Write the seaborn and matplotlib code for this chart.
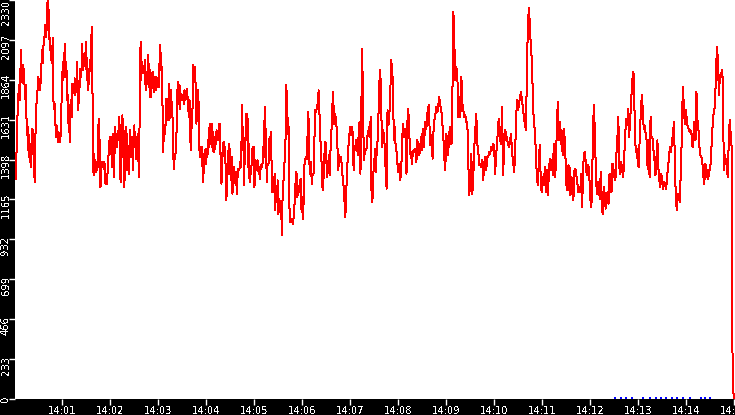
import numpy as np
import pandas as pd
import matplotlib
matplotlib.use("Agg")
import matplotlib.pyplot as plt
import matplotlib.dates as mdates
from matplotlib.transforms import ScaledTranslation
import seaborn as sns

day = "2024-01-01 "

# chunk boundaries (time of first sample of each chunk, plus final end)
chunk_bounds = ["14:00:02", "14:03:47", "14:05:40", "14:07:32", "14:09:09",
                "14:11:17", "14:14:58", "14:15:01"]

seg1 = [1286, 1423, 1553, 1696, 1764, 1833, 1745, 1823, 2037, 1852,
        1891, 1950, 1842, 1930, 1823, 1754, 1833, 1647, 1540, 1589,
        1452, 1540, 1384, 1452, 1354, 1491, 1579, 1433, 1569, 1403,
        1267, 1472, 1667, 1725, 1764, 1823, 1881, 1823, 1852, 1803,
        1911, 1959, 2037, 1959, 2057, 2096, 2125, 2184, 2115, 2154,
        2301, 2330, 2184, 2271, 2037, 2106, 1979, 2047, 1959, 2106,
        1745, 1696, 1725, 1628, 1530, 1598, 1589, 1501, 1559, 1511,
        1540, 1501, 1618, 1745, 1911, 1862, 1969, 1920, 2076, 1881,
        1969, 1911, 1745, 1774, 1608, 1647, 1501, 1715, 1745, 1647,
        1842, 1784, 1842, 1784, 1872, 1774, 1862, 1842, 1969, 1686,
        1725, 1842, 1823, 1930, 1881, 1930, 2076, 1920, 2008, 1959,
        2018, 1940, 2086, 1862, 1989, 1803, 1862, 1842, 1979, 1920,
        2028, 2174, 1911, 1481, 1306, 1433, 1345, 1394, 1325, 1345,
        1335, 1394, 1637, 1374, 1511, 1237, 1354, 1384, 1374, 1354,
        1384, 1345, 1374, 1257, 1315, 1257, 1315, 1335, 1442, 1491,
        1530, 1491, 1530, 1354, 1413, 1550, 1296, 1335, 1589, 1511,
        1550, 1472, 1511, 1511, 1589, 1647, 1520, 1267, 1354, 1452,
        1657, 1511, 1569, 1237, 1354, 1413, 1589, 1511, 1335, 1394,
        1315, 1433, 1569, 1413, 1472, 1530, 1413, 1335, 1550, 1598,
        1472, 1530, 1403, 1462, 1491, 1550, 1296, 1491, 1881, 2086,
        1862, 1969, 1901, 1930, 1911, 1940, 1979, 1803, 1911, 1842,
        1852, 2008, 1823, 1959, 1764, 1764, 1803, 1862, 1911, 1813,
        1881, 1793, 1833, 1803, 1881, 1872, 1823, 1872, 1823, 1950,
        2067, 1920, 2018, 1774, 1706, 1442, 1559, 1540, 1598, 1598,
        1754, 1628, 1745, 1676, 1842, 1628, 1784, 1803, 1676, 1735,
        1628, 1442, 1345, 1403, 1403, 1452, 1520, 1686, 1833, 1852,
        1725, 1833, 1696, 1784, 1745, 1774, 1745, 1774, 1725, 1803,
        1745, 1774, 1754, 1813, 1754, 1696, 1647, 1745, 1559, 1452,
        1569, 1676, 1706, 1950, 1911, 1940, 1852]

seg2a = [1842, 1608, 1676, 1706, 1803, 1647, 1452, 1413, 1472, 1462,
         1472, 1354, 1267, 1345, 1433, 1413, 1462, 1374, 1452, 1413,
         1511, 1472, 1569, 1608, 1491, 1550, 1608, 1472, 1559, 1442,
         1491, 1462, 1530, 1491, 1569, 1530, 1559, 1511, 1608, 1608,
         1530, 1296, 1257, 1374, 1472, 1491, 1501, 1413, 1472, 1315,
         1159, 1237, 1315, 1403, 1491, 1354, 1462, 1277, 1354, 1413,
         1198, 1296, 1354, 1267, 1325, 1257, 1325, 1198, 1277, 1335,
         1345, 1335, 1354, 1384, 1354, 1530, 1715, 1452, 1559, 1247,
         1413, 1481, 1608, 1667, 1511, 1637, 1354, 1491, 1267, 1354,
         1315, 1354, 1413, 1472, 1394, 1472, 1237, 1315, 1394, 1374,
         1335, 1394, 1354, 1315, 1345, 1286, 1364, 1345, 1374, 1354,
         1472, 1413, 1550, 1706, 1550, 1579, 1267, 1364, 1364, 1374,
         1501, 1530, 1511, 1559, 1394, 1208, 1267, 1237, 1208, 1315,
         1101, 1218, 1228, 1150, 1277, 1081, 1169, 1120, 1159, 1052,
         1159, 955, 1169, 1237, 1306, 1374, 1413, 1530]

seg2b = [1833, 1745, 1550, 1589, 1042, 1033, 1052, 1042, 1023, 1081, 1159,
         1267, 1325, 1179, 1218, 1208, 1277, 1286, 1091, 1179, 1052,
         1354, 1394, 1413, 1403, 1540, 1676, 1394, 1315, 1384, 1257,
         1315, 1315, 1491, 1686, 1676, 1706, 1725, 1803, 1667, 1511,
         1462, 1257, 1218, 1315, 1452, 1501, 1403, 1296, 1354, 1423,
         1306, 1462, 1559, 1706, 1793, 1608, 1667, 1647, 1589, 1481,
         1335, 1423, 1394, 1413, 1374, 1306, 1257, 1198, 1062, 1120,
         1306, 1394, 1481, 1540, 1589, 1540, 1589, 1550, 1335, 1452,
         1472, 1511, 1472, 1423, 1569, 1618, 1315, 1676, 2047,
         1706, 1394, 1442, 1462, 1452, 1530, 1550, 1589, 1530, 1647,
         1198, 1150, 1315, 1354, 1462]

seg3a = [1325, 1452, 1511, 1667, 1852, 1920, 1706, 1472, 1569, 1550,
         1462, 1325, 1228, 1686, 1598, 1657, 1774, 1979, 1930, 1833,
         1511, 1589, 1472, 1442, 1374, 1325, 1374, 1277, 1315, 1462,
         1608, 1530, 1579, 1530, 1315, 1618, 1696, 1569, 1433, 1442,
         1374, 1433, 1452, 1442, 1462, 1384, 1511, 1472, 1423, 1452,
         1530, 1452, 1579, 1472, 1540, 1618, 1579, 1657, 1706, 1715,
         1481, 1540, 1491, 1403, 1569, 1628, 1657, 1706, 1676, 1686,
         1764, 1735, 1696, 1667, 1589, 1511, 1403, 1335, 1550, 1511,
         1423, 1511, 1589, 1491, 1491, 1823]

seg3b = [2262, 2057, 1862, 1940, 1881, 1647, 1764, 1647, 1881, 1725, 1686,
         1647, 1657, 1618, 1618, 1374, 1189, 1296, 1433, 1198, 1296,
         1472, 1569, 1667, 1491, 1452, 1364, 1374, 1354, 1394, 1277,
         1374, 1413, 1335, 1413, 1413, 1442, 1433, 1472, 1452, 1491,
         1472, 1315, 1433, 1491, 1608, 1637, 1511, 1491, 1706, 1306,
         1472, 1569, 1550, 1511, 1491, 1472, 1511, 1550, 1433, 1394,
         1325, 1413, 1628, 1745, 1686, 1725, 1764, 1793, 1745, 1696,
         1637, 1608, 1569, 1940, 2203, 2281, 2174, 2037, 1979, 1735,
         1608, 1569, 1423, 1296, 1247, 1413, 1481, 1228, 1208, 1296,
         1247, 1354, 1208, 1335, 1189, 1315, 1403, 1335, 1394, 1306,
         1491, 1296]

seg4 = [1354, 1569, 1735, 1511, 1618, 1491, 1569, 1423, 1579, 1530,
        1394, 1237, 1218, 1364, 1354, 1189, 1296, 1257, 1159, 1335,
        1345, 1306, 1267, 1208, 1228, 1208, 1315, 1120, 1364, 1433,
        1442, 1335, 1306, 1364, 1354, 1198, 1120, 1169, 1569, 1715,
        1550, 1335, 1198, 1267, 1237, 1169, 1325, 1120, 1081, 1237,
        1198, 1111, 1169, 1208, 1140, 1315, 1277, 1208, 1374, 1345,
        1296, 1277, 1423, 1520, 1647, 1354, 1315, 1384, 1335, 1296,
        1403, 1540, 1637, 1598, 1696, 1530, 1608, 1735, 1823, 1911,
        1891, 1530, 1442, 1462, 1374, 1354, 1550, 1657, 1774, 1696,
        1579, 1598, 1550, 1511, 1345, 1511, 1296, 1647, 1530, 1520,
        1452, 1394, 1306, 1403, 1511, 1354, 1277, 1237, 1315, 1267,
        1228, 1267, 1257, 1228, 1306, 1354, 1423, 1472, 1442, 1511,
        1550, 1618, 1354, 1150, 1101, 1198, 1179, 1150, 1335, 1530,
        1823, 1725, 1608, 1686, 1637, 1589, 1579, 1559, 1569, 1540,
        1472, 1550, 1618, 1511, 1793, 1628, 1579, 1472, 1423, 1413,
        1384, 1306, 1257, 1374, 1354, 1296, 1286, 1335, 1335, 1423,
        1550, 1637, 1686, 1706, 1920, 2057, 1969, 1774, 1891, 1881,
        1920, 1862, 1335, 1423, 1394, 1364, 1296, 1491, 1628, 1550,
        1472]

tail = [130, 0]

# small blue event marks along the bottom
event_times = ["14:12:31", "14:12:39", "14:12:45", "14:12:52", "14:13:06",
               "14:13:15", "14:13:22", "14:13:29", "14:13:35", "14:13:42",
               "14:13:49", "14:13:56", "14:14:05", "14:14:18", "14:14:24",
               "14:14:30"]

y_ticks = [0, 233, 466, 699, 932, 1165, 1398, 1631, 1864, 2097, 2330]

# build the time series
chunks = [seg1, seg2a, seg2b, seg3a, seg3b, seg4, tail]
times, values = [], []
for i, vals in enumerate(chunks):
    t0 = pd.Timestamp(day + chunk_bounds[i])
    t1 = pd.Timestamp(day + chunk_bounds[i + 1])
    ts = pd.date_range(t0, t1, periods=len(vals) + 1)[:-1]
    times.extend(ts)
    values.extend(vals)
df = pd.DataFrame({"time": times, "value": values})
ev = pd.DataFrame({"time": pd.to_datetime([day + t for t in event_times]),
                   "value": [5] * len(event_times)})

plt.rcParams["font.family"] = ["DejaVu Sans"]
plt.rcParams["text.antialiased"] = False
fig = plt.figure(figsize=(7.35, 4.15), dpi=100, facecolor="black")
ax = fig.add_axes([15 / 735, 16 / 415, 720 / 735, 399 / 415])
ax.set_facecolor("white")

sns.lineplot(data=df, x="time", y="value", color="red", linewidth=0.72,
             estimator=None, sort=False, ax=ax)
ax.lines[0].set_antialiased(False)
sns.scatterplot(data=ev, x="time", y="value", color="blue", marker="s",
                s=2, linewidth=0, ax=ax, clip_on=False, zorder=5)

ax.set_xlim(pd.Timestamp(day + "14:00:01"), pd.Timestamp(day + "14:15:01"))
ax.set_ylim(0, 2330)
ax.xaxis.set_major_locator(mdates.MinuteLocator())
ax.xaxis.set_major_formatter(mdates.DateFormatter("%H:%M"))
ax.set_yticks(y_ticks)
ax.set_yticklabels([str(v) for v in y_ticks], rotation=90, va="center")
ax.set_xlabel("")
ax.set_ylabel("")
for s in ax.spines.values():
    s.set_visible(False)
ax.tick_params(axis="both", colors="white", labelcolor="white",
               labelsize=7.2, length=4, width=1)
ax.tick_params(axis="y", pad=-1)
ax.tick_params(axis="x", pad=1)

# y labels sit a little below their ticks, clamped at the ends
for lab, v in zip(ax.get_yticklabels(), y_ticks):
    dy = 6
    if v == 0:
        dy = 0
    elif v == y_ticks[-1]:
        dy = 12
    lab.set_transform(lab.get_transform() +
                      ScaledTranslation(0, -dy / 100, fig.dpi_scale_trans))

fig.savefig("out.png", dpi=100, facecolor="black")
